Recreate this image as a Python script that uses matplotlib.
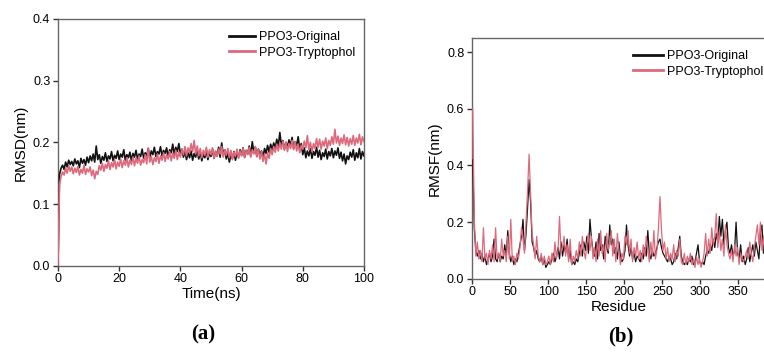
import numpy as np
import matplotlib
matplotlib.use("Agg")
import matplotlib.pyplot as plt

plt.rcParams['font.family'] = ['Liberation Sans', 'DejaVu Sans']

# RMSD, sampled every 0.5 ns (0 .. 100 ns)
rmsd_original = [
    0.000, 0.148, 0.158, 0.163, 0.156, 0.168, 0.160, 0.171, 0.164, 0.169,
    0.162, 0.173, 0.165, 0.170, 0.159, 0.174, 0.166, 0.172, 0.163, 0.176,
    0.167, 0.178, 0.170, 0.181, 0.168, 0.194, 0.172, 0.180, 0.166, 0.177,
    0.171, 0.183, 0.169, 0.178, 0.173, 0.185, 0.170, 0.179, 0.174, 0.186,
    0.172, 0.181, 0.176, 0.188, 0.171, 0.180, 0.175, 0.184, 0.170, 0.182,
    0.176, 0.187, 0.173, 0.181, 0.177, 0.189, 0.174, 0.183, 0.178, 0.190,
    0.175, 0.186, 0.180, 0.192, 0.177, 0.185, 0.181, 0.193, 0.178, 0.187,
    0.182, 0.191, 0.176, 0.188, 0.183, 0.197, 0.180, 0.192, 0.185, 0.198,
    0.181, 0.189, 0.176, 0.185, 0.172, 0.183, 0.175, 0.186, 0.171, 0.182,
    0.176, 0.188, 0.173, 0.184, 0.170, 0.181, 0.175, 0.187, 0.172, 0.183,
    0.177, 0.189, 0.174, 0.185, 0.178, 0.192, 0.176, 0.199, 0.180, 0.188,
    0.173, 0.182, 0.168, 0.180, 0.174, 0.185, 0.171, 0.183, 0.176, 0.188,
    0.179, 0.191, 0.176, 0.187, 0.181, 0.194, 0.178, 0.201, 0.183, 0.192,
    0.177, 0.189, 0.180, 0.186, 0.175, 0.190, 0.182, 0.195, 0.184, 0.197,
    0.188, 0.199, 0.191, 0.205, 0.193, 0.216, 0.195, 0.203, 0.189, 0.200,
    0.192, 0.204, 0.194, 0.208, 0.190, 0.201, 0.195, 0.209, 0.188, 0.198,
    0.180, 0.191, 0.175, 0.186, 0.178, 0.190, 0.174, 0.185, 0.179, 0.192,
    0.176, 0.187, 0.172, 0.183, 0.177, 0.189, 0.173, 0.185, 0.178, 0.190,
    0.175, 0.186, 0.179, 0.191, 0.174, 0.184, 0.170, 0.181, 0.165, 0.178,
    0.172, 0.184, 0.176, 0.188, 0.171, 0.183, 0.175, 0.190, 0.173, 0.185,
    0.178,
]
rmsd_tryptophol = [
    0.000, 0.132, 0.145, 0.152, 0.147, 0.158, 0.150, 0.162, 0.153, 0.160,
    0.149, 0.158, 0.151, 0.161, 0.147, 0.156, 0.150, 0.163, 0.148, 0.157,
    0.152, 0.160, 0.146, 0.155, 0.141, 0.153, 0.148, 0.162, 0.155, 0.166,
    0.153, 0.164, 0.158, 0.170, 0.156, 0.167, 0.160, 0.172, 0.157, 0.168,
    0.161, 0.173, 0.159, 0.170, 0.163, 0.175, 0.160, 0.171, 0.164, 0.176,
    0.162, 0.174, 0.166, 0.178, 0.163, 0.172, 0.167, 0.180, 0.165, 0.191,
    0.168, 0.177, 0.164, 0.175, 0.169, 0.181, 0.166, 0.178, 0.171, 0.183,
    0.169, 0.180, 0.173, 0.185, 0.170, 0.182, 0.174, 0.187, 0.172, 0.184,
    0.176, 0.189, 0.180, 0.193, 0.178, 0.191, 0.183, 0.198, 0.185, 0.203,
    0.181, 0.194, 0.178, 0.190, 0.175, 0.187, 0.179, 0.192, 0.176, 0.188,
    0.180, 0.191, 0.174, 0.186, 0.177, 0.189, 0.181, 0.193, 0.176, 0.188,
    0.179, 0.190, 0.175, 0.187, 0.172, 0.184, 0.177, 0.189, 0.174, 0.186,
    0.178, 0.190, 0.175, 0.187, 0.180, 0.192, 0.176, 0.188, 0.181, 0.193,
    0.177, 0.189, 0.173, 0.185, 0.169, 0.181, 0.165, 0.183, 0.174, 0.190,
    0.180, 0.193, 0.184, 0.197, 0.186, 0.199, 0.189, 0.202, 0.187, 0.200,
    0.185, 0.198, 0.190, 0.203, 0.188, 0.201, 0.186, 0.197, 0.183, 0.195,
    0.189, 0.202, 0.191, 0.211, 0.188, 0.200, 0.185, 0.198, 0.190, 0.206,
    0.192, 0.205, 0.189, 0.202, 0.194, 0.207, 0.190, 0.203, 0.195, 0.209,
    0.197, 0.221, 0.199, 0.210, 0.195, 0.207, 0.198, 0.212, 0.196, 0.208,
    0.194, 0.206, 0.197, 0.211, 0.195, 0.207, 0.199, 0.213, 0.196, 0.209,
    0.201,
]
time_ns = np.arange(len(rmsd_original)) * 0.5

# RMSF, every second residue (1, 3, ..., 385)
rmsf_original = [
    0.42, 0.18, 0.10, 0.08, 0.10, 0.07, 0.09, 0.06, 0.08, 0.05,
    0.07, 0.09, 0.06, 0.08, 0.14, 0.07, 0.06, 0.09, 0.06, 0.08,
    0.07, 0.12, 0.08, 0.17, 0.09, 0.06, 0.08, 0.05, 0.07, 0.06,
    0.09, 0.12, 0.15, 0.21, 0.10, 0.16, 0.25, 0.35, 0.27, 0.13,
    0.11, 0.08, 0.10, 0.07, 0.06, 0.08, 0.05, 0.07, 0.04, 0.05,
    0.06, 0.05, 0.07, 0.09, 0.06, 0.08, 0.11, 0.07, 0.13, 0.08,
    0.12, 0.09, 0.14, 0.07, 0.10, 0.05, 0.06, 0.05, 0.07, 0.06,
    0.09, 0.12, 0.08, 0.13, 0.10, 0.15, 0.09, 0.21, 0.14, 0.10,
    0.08, 0.13, 0.07, 0.16, 0.10, 0.12, 0.07, 0.15, 0.11, 0.09,
    0.19, 0.12, 0.14, 0.09, 0.11, 0.07, 0.13, 0.08, 0.06, 0.07,
    0.10, 0.19, 0.12, 0.08, 0.11, 0.07, 0.09, 0.06, 0.08, 0.07,
    0.06, 0.09, 0.07, 0.11, 0.08, 0.17, 0.09, 0.07, 0.10, 0.08,
    0.09, 0.11, 0.13, 0.14, 0.11, 0.09, 0.08, 0.07, 0.06, 0.08,
    0.07, 0.05, 0.06, 0.09, 0.07, 0.11, 0.15, 0.08, 0.06, 0.05,
    0.06, 0.05, 0.07, 0.06, 0.08, 0.05, 0.06, 0.09, 0.12, 0.06,
    0.05, 0.06, 0.05, 0.08, 0.10, 0.09, 0.12, 0.10, 0.14, 0.11,
    0.16, 0.13, 0.22, 0.15, 0.21, 0.12, 0.17, 0.20, 0.11, 0.09,
    0.12, 0.08, 0.10, 0.20, 0.09, 0.07, 0.12, 0.06, 0.08, 0.05,
    0.07, 0.11, 0.06, 0.09, 0.12, 0.08, 0.13, 0.10, 0.07, 0.16,
    0.19, 0.09, 0.18,
]
rmsf_tryptophol = [
    0.60, 0.21, 0.08, 0.13, 0.07, 0.10, 0.06, 0.18, 0.07, 0.09,
    0.05, 0.10, 0.07, 0.12, 0.06, 0.18, 0.07, 0.09, 0.06, 0.14,
    0.08, 0.10, 0.06, 0.15, 0.07, 0.21, 0.06, 0.08, 0.05, 0.09,
    0.07, 0.11, 0.18, 0.14, 0.09, 0.20, 0.31, 0.44, 0.30, 0.16,
    0.12, 0.07, 0.15, 0.08, 0.06, 0.09, 0.05, 0.08, 0.05, 0.06,
    0.08, 0.05, 0.09, 0.06, 0.13, 0.07, 0.10, 0.22, 0.09, 0.11,
    0.15, 0.08, 0.12, 0.06, 0.14, 0.05, 0.08, 0.06, 0.10, 0.07,
    0.13, 0.08, 0.15, 0.10, 0.07, 0.12, 0.16, 0.10, 0.15, 0.07,
    0.11, 0.06, 0.14, 0.08, 0.17, 0.09, 0.12, 0.06, 0.16, 0.10,
    0.13, 0.17, 0.08, 0.14, 0.06, 0.16, 0.10, 0.05, 0.09, 0.07,
    0.15, 0.12, 0.17, 0.09, 0.14, 0.06, 0.11, 0.08, 0.13, 0.07,
    0.10, 0.06, 0.12, 0.08, 0.15, 0.10, 0.06, 0.13, 0.08, 0.17,
    0.07, 0.10, 0.18, 0.29, 0.17, 0.10, 0.13, 0.07, 0.11, 0.06,
    0.09, 0.07, 0.12, 0.06, 0.10, 0.08, 0.14, 0.06, 0.05, 0.09,
    0.05, 0.08, 0.06, 0.09, 0.05, 0.07, 0.04, 0.08, 0.05, 0.07,
    0.04, 0.06, 0.09, 0.16, 0.08, 0.14, 0.09, 0.18, 0.12, 0.15,
    0.23, 0.11, 0.17, 0.10, 0.14, 0.08, 0.19, 0.12, 0.09, 0.07,
    0.10, 0.06, 0.12, 0.08, 0.11, 0.05, 0.09, 0.07, 0.06, 0.08,
    0.10, 0.07, 0.13, 0.09, 0.06, 0.11, 0.15, 0.19, 0.12, 0.20,
    0.10, 0.15, 0.07,
]
residue = np.arange(1, 2 * len(rmsf_original), 2)

labels = ['PPO3-Original', 'PPO3-Tryptophol']
black = '#111111'
pink = '#dc6a7c'
spine_col = '#666666'

fig = plt.figure(figsize=(7.64, 3.56), dpi=100)


def style(ax):
    for s in ax.spines.values():
        s.set_color(spine_col)
        s.set_linewidth(1.0)
    ax.tick_params(direction='out', length=3.5, width=1.0, color='#333333',
                   labelsize=9, pad=2, top=False, right=False)


# (a) RMSD
ax1 = fig.add_axes([0.0759, 0.2537, 0.4005, 0.693])
ax1.plot(time_ns, rmsd_original, color=black, lw=1.2, label=labels[0], zorder=3)
ax1.plot(time_ns, rmsd_tryptophol, color=pink, lw=1.2, label=labels[1], zorder=3)
ax1.set_xlim(0, 100)
ax1.set_ylim(0, 0.4)
ax1.set_xticks([0, 20, 40, 60, 80, 100])
ax1.set_yticks([0.0, 0.1, 0.2, 0.3, 0.4])
ax1.set_xlabel('Time(ns)', fontsize=11, labelpad=1)
ax1.set_ylabel('RMSD(nm)', fontsize=11, labelpad=4)
style(ax1)
leg1 = ax1.legend(loc='upper right', bbox_to_anchor=(1.0, 0.985), frameon=False,
                  fontsize=9, handlelength=2.1, handletextpad=0.3,
                  labelspacing=0.25, borderaxespad=0.3)
for h in leg1.get_lines():
    h.set_linewidth(2.0)

# (b) RMSF
ax2 = fig.add_axes([0.6178, 0.217, 0.3835, 0.676])
ax2.plot(residue, rmsf_original, color=black, lw=0.9, label=labels[0], zorder=3)
ax2.plot(residue, rmsf_tryptophol, color=pink, lw=0.9, label=labels[1], zorder=3)
ax2.set_xlim(0, 385)
ax2.set_ylim(0, 0.85)
ax2.set_xticks([0, 50, 100, 150, 200, 250, 300, 350])
ax2.set_yticks([0.0, 0.2, 0.4, 0.6, 0.8])
ax2.set_xlabel('Residue', fontsize=11, labelpad=1)
ax2.set_ylabel('RMSF(nm)', fontsize=11, labelpad=4)
style(ax2)
leg2 = ax2.legend(loc='upper left', bbox_to_anchor=(0.52, 0.985), frameon=False,
                  fontsize=9, handlelength=2.4, handletextpad=0.3,
                  labelspacing=0.25, borderaxespad=0.3)
for h in leg2.get_lines():
    h.set_linewidth(2.0)

fig.text(0.266, 0.045, '(a)', fontsize=15, fontweight='bold',
         family=['Liberation Serif', 'DejaVu Serif'], ha='center')
fig.text(0.812, 0.04, '(b)', fontsize=15, fontweight='bold',
         family=['Liberation Serif', 'DejaVu Serif'], ha='center')

fig.savefig('out.png', dpi=100)
